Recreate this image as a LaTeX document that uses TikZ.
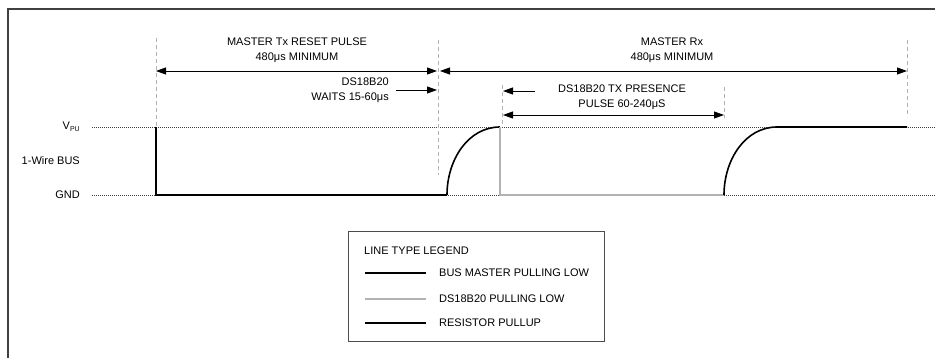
\documentclass[tikz,border=0pt]{standalone}
\usepackage{fontspec}
\setmainfont{Liberation Sans}
\usetikzlibrary{arrows.meta,positioning}
\tikzset{
  txt/.style={font=\fontsize{11}{15}\selectfont, inner sep=0pt, align=center},
  lvl/.style={dash pattern=on 1pt off 1pt, line width=0.6pt, black!75},
  tmark/.style={dash pattern=on 4pt off 3pt, line width=1pt, black!30},
  dim/.style={{Triangle[length=10pt,width=7pt]}-{Triangle[length=10pt,width=7pt]}, line width=0.9pt},
  ptr/.style={-{Triangle[length=10pt,width=7pt]}, line width=0.9pt},
  master/.style={line width=2.6pt, black},
  slave/.style={line width=1.6pt, black!30},
  pullup/.style={line width=1.6pt, black},
  frm/.style={line width=1.5pt, black!75}
}

\begin{document}
\begin{tikzpicture}[x=1pt, y=-1pt]
  \useasboundingbox (0,0) rectangle (935,358);
  \draw[frm] (935,9) -- (8,9) -- (8,358);

  % bus levels
  \node[txt, anchor=east] (vpu) at (80,127) {V\raisebox{-2pt}{\fontsize{7}{7}\selectfont PU}};
  \node[txt, anchor=east] (bus) at (80,161) {1-Wire BUS};
  \node[txt, anchor=east] (gnd) at (80,195) {GND};
  \coordinate (vpuL) at (92,127); \coordinate (vpuR) at (935,127);
  \coordinate (gndL) at (92,195); \coordinate (gndR) at (935,195);
  \draw[lvl] (vpuL) -- (vpuR);
  \draw[lvl] (gndL) -- (gndR);

  % time marks
  \foreach \n/\x/\a/\b in {t0/156/38/127, t1/438/40/175, t2/502/85/127, t3/724/87/118, t4/907/40/117} {
    \coordinate (\n top) at (\x,\a);
    \coordinate (\n bot) at (\x,\b);
    \draw[tmark] (\n top) -- (\n bot);
  }

  % waveform
  \draw[master] (156,127) -- (156,195) -- (447,195);
  \draw[pullup] (447,195) .. controls (447,160) and (468,127) .. (500,127);
  \draw[slave] (500,127) -- (500,195) -- (724,195);
  \draw[pullup] (724,195) .. controls (724,160) and (745,127) .. (777,127) -- (907,127);

  % timing labels
  \node[txt] (rst) at (297,50) {MASTER Tx RESET PULSE\\480μs MINIMUM};
  \node[txt] (rx) at (672,50) {MASTER Rx\\480μs MINIMUM};
  \coordinate (rstA) at (156,71); \coordinate (rstB) at (437,71);
  \coordinate (rxA) at (440,71); \coordinate (rxB) at (907,71);
  \draw[dim] (rstA) -- (rstB);
  \draw[dim] (rxA) -- (rxB);

  \node[txt, align=right, anchor=east] (wait) at (389,90) {DS18B20\\WAITS 15-60μs};
  \coordinate (waitE) at (437,90);
  \draw[ptr] ([xshift=7pt]wait.east) -- (waitE);

  \node[txt] (pres) at (622,97) {DS18B20 TX PRESENCE\\PULSE 60-240μS};
  \coordinate (presA) at (535,91); \coordinate (presB) at (503,91);
  \draw[ptr] (presA) -- (presB);
  \coordinate (pulA) at (503,115); \coordinate (pulB) at (724,115);
  \draw[dim] (pulA) -- (pulB);

  % legend
  \node[draw, line width=1pt, black!70, minimum width=256pt, minimum height=109pt, inner sep=0pt] (legend) at (476,286.5) {};
  \node[txt, anchor=west] (lgT) at (364,251) {LINE TYPE LEGEND};
  \foreach \y/\s/\t in {273/master/BUS MASTER PULLING LOW, 299/slave/DS18B20 PULLING LOW, 323/pullup/RESISTOR PULLUP} {
    \draw[\s] (365,\y) -- (426,\y);
    \node[txt, anchor=west] (lg\y) at (439,\y) {\t};
  }
\end{tikzpicture}
\end{document}
